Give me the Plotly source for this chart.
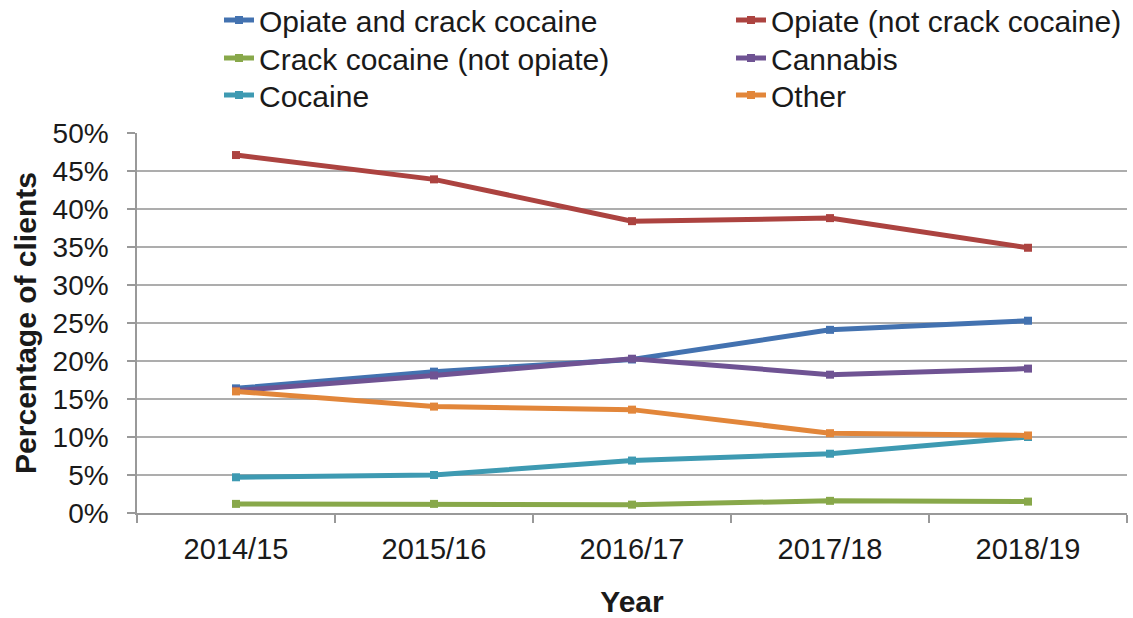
import plotly.graph_objects as go

years = ["2014/15", "2015/16", "2016/17", "2017/18", "2018/19"]

opiate_and_crack = [16.4, 18.6, 20.2, 24.1, 25.3]
opiate_not_crack = [47.1, 43.9, 38.4, 38.8, 34.9]
crack_not_opiate = [1.2, 1.2, 1.1, 1.6, 1.5]
cannabis = [16.1, 18.1, 20.3, 18.2, 19.0]
cocaine = [4.7, 5.0, 6.9, 7.8, 10.0]
other = [16.0, 14.0, 13.6, 10.5, 10.2]

names = ["Opiate and crack cocaine", "Opiate (not crack cocaine)",
         "Crack cocaine (not opiate)", "Cannabis", "Cocaine", "Other"]
values = [opiate_and_crack, opiate_not_crack, crack_not_opiate, cannabis, cocaine, other]
colors = ["#4372B0", "#AC4340", "#88A84A", "#6F5393", "#3E9AB2", "#E2863A"]

FONT = "Arial, 'Liberation Sans', sans-serif"

# legend placement: two columns, three rows (pixel positions)
col_px = [219, 731]
row_px = [20, 58, 95]
PLOT_L, PLOT_W, PLOT_T, PLOT_H = 137, 990, 133, 380

fig = go.Figure()
legends = {}
for i, (name, vals, color) in enumerate(zip(names, values, colors)):
    key = "legend" if i == 0 else f"legend{i + 1}"
    fig.add_trace(go.Scatter(
        x=years, y=vals, name=name, mode="lines+markers",
        line=dict(color=color, width=5),
        marker=dict(symbol="square", size=8, color=color),
        legend=key,
    ))
    col, row = i % 2, i // 2
    legends[key] = dict(
        x=(col_px[col] - PLOT_L) / PLOT_W, xanchor="left",
        y=1 + (PLOT_T - row_px[row]) / PLOT_H, yanchor="middle",
        orientation="v", bgcolor="rgba(0,0,0,0)", font=dict(size=30),
        itemwidth=30, borderwidth=0,
    )

fig.update_layout(
    width=1133, height=618,
    margin=dict(l=PLOT_L, r=6, t=PLOT_T, b=105, autoexpand=False),
    paper_bgcolor="white", plot_bgcolor="white",
    font=dict(family=FONT, size=28, color="#1a1a1a"),
    showlegend=True,
    **legends,
    xaxis=dict(
        type="category", range=[-0.5, 4.5], automargin=False,
        showgrid=False, showline=True, linecolor="#999999", linewidth=1.5,
        ticks="outside", tickson="boundaries", ticklen=8, tickcolor="#999999",
        tickwidth=1.5, ticklabelstandoff=9,
        tickfont=dict(size=29),
        title=dict(text="<b>Year</b>", font=dict(size=30), standoff=33),
    ),
    yaxis=dict(
        range=[0, 50], dtick=5, ticksuffix="%", automargin=False,
        showgrid=True, gridcolor="#ADADAD", gridwidth=1.5,
        showline=True, linecolor="#999999", linewidth=1.5,
        ticks="outside", ticklen=8, tickcolor="#999999", tickwidth=1.5,
        ticklabelstandoff=13,
        tickfont=dict(size=28), zeroline=False,
        title=dict(text="<b>Percentage of clients</b>", font=dict(size=30), standoff=7),
    ),
)

fig.write_html("out.html")
